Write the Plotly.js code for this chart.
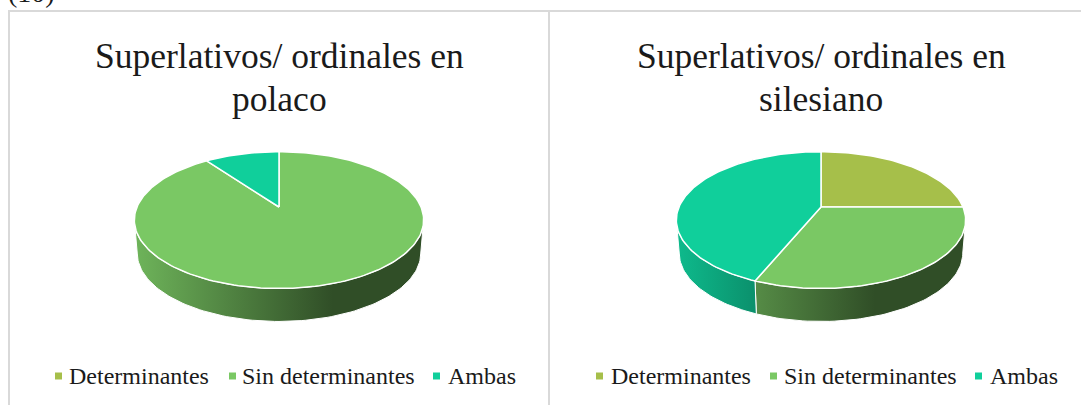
<!DOCTYPE html>
<html>
<head>
<meta charset="utf-8">
<script src="https://cdn.plot.ly/plotly-3.0.1.min.js"></script>
<style>html,body{margin:0;padding:0;background:#fff;overflow:hidden}#chart{width:1081px;height:405px}</style>
</head>
<body>
<div id="chart"></div>
<script>
// ---- data ----
const categories = ["Determinantes", "Sin determinantes", "Ambas"];
const polacoValues = [0, 9, 1];
const silesianoValues = [4, 5, 7];
const polacoTitle = ["Superlativos/ ordinales en", "polaco"];
const silesianoTitle = ["Superlativos/ ordinales en", "silesiano"];
const sliceColors = ["#A6BF4A", "#7AC864", "#10CF9B"];

// ---- geometry of the tilted pie (pixels, axes map 1:1 to the page) ----
const apexY = 207, perspective = 0.191, radiusX = 142, radiusY = 65.9;
const wallDepth = 33, wallScale = 0.98, frontStart = 101, frontEnd = 259;
const font = "Liberation Serif";

function rim(cx, deg, depth) {
  const t = deg * Math.PI / 180, u = Math.sin(t), v = Math.cos(t), d = 1 + perspective * v;
  const px = radiusX * u / d, py = radiusY * v / d;
  return depth ? [cx + wallScale * px, apexY - py + wallDepth] : [cx + px, apexY - py];
}
function shade(hex, f) {
  const n = parseInt(hex.slice(1), 16);
  return `rgb(${Math.round((n >> 16) * f)},${Math.round(((n >> 8) & 255) * f)},${Math.round((n & 255) * f)})`;
}
function arcAngles(a, b) {
  const out = [], steps = Math.max(2, Math.ceil((b - a) / 1.5));
  for (let i = 0; i <= steps; i++) out.push(a + (b - a) * i / steps);
  return out;
}
function pieTraces(cx, values) {
  const total = values.reduce((s, x) => s + x, 0);
  const walls = [], tops = [];
  let start = 0;
  values.forEach((val, i) => {
    const end = start + val / total * 360;
    if (val > 0) {
      const a = Math.max(start, frontStart), b = Math.min(end, frontEnd);
      if (b > a) {
        const ang = arcAngles(a, b);
        const upper = ang.map(d => rim(cx, d, false));
        const lower = ang.slice().reverse().map(d => rim(cx, d, true));
        const pts = upper.concat(lower); pts.push(upper[0]);
        walls.push({
          type: "scatter", mode: "lines", x: pts.map(p => p[0]), y: pts.map(p => p[1]),
          fill: "toself", line: {color: "#ffffff", width: 1}, hoverinfo: "skip", showlegend: false,
          fillgradient: {type: "horizontal", start: cx - 144, stop: cx + 54,
            colorscale: [[0, shade(sliceColors[i], 0.9)], [1, shade(sliceColors[i], 0.39)]]}
        });
      }
      const ang = arcAngles(start, end);
      const pts = [[cx, apexY]].concat(ang.map(d => rim(cx, d, false)));
      pts.push([cx, apexY]);
      tops.push({
        type: "scatter", mode: "lines", x: pts.map(p => p[0]), y: pts.map(p => p[1]),
        fill: "toself", fillcolor: sliceColors[i], line: {color: "#ffffff", width: 1.5},
        name: categories[i], text: String(val), hoverinfo: "name+text", showlegend: false
      });
    }
    start = end;
  });
  return walls.concat(tops);
}

// ---- legend layout ----
const legendMarkersLeft = [58.5, 232.5, 436.5];
const legendTextLeft = [70, 243, 449];
const legendMarkersRight = [599.5, 773.5, 978.5];
const legendTextRight = [612, 785, 991];
const legendY = 376;

const legendTrace = (xs) => categories.map((c, i) => ({
  type: "scatter", mode: "markers", x: [xs[i]], y: [legendY], name: c, hoverinfo: "name", showlegend: false,
  marker: {symbol: "square", size: 7, color: sliceColors[i]}
}));
const legendNotes = (xs) => categories.map((c, i) => ({
  xref: "x", yref: "y", x: xs[i], y: legendY, text: c, showarrow: false,
  xanchor: "left", yanchor: "middle", xshift: -3, font: {family: font, size: 24, color: "#1a1a1a"}
}));
const titleLineY = [56, 99];
const titleNotes = (x, lines) => lines.map((text, i) => ({
  xref: "x", yref: "y", x: x, y: titleLineY[i], text: text, showarrow: false, xanchor: "center", yanchor: "middle",
  font: {family: font, size: 35.5, color: "#1a1a1a"}
}));

const data = [].concat(
  pieTraces(279, polacoValues), pieTraces(821, silesianoValues),
  legendTrace(legendMarkersLeft), legendTrace(legendMarkersRight)
);
const borderColor = "#D9D9D9";
const layout = {
  width: 1081, height: 405, margin: {l: 0, r: 0, t: 0, b: 0},
  paper_bgcolor: "#ffffff", plot_bgcolor: "#ffffff", showlegend: false,
  xaxis: {range: [0, 1081], visible: false, fixedrange: true},
  yaxis: {range: [405, 0], visible: false, fixedrange: true},
  shapes: [
    {type: "line", xref: "x", yref: "y", x0: 8, x1: 1081, y0: 11, y1: 11, line: {color: borderColor, width: 2}},
    {type: "line", xref: "x", yref: "y", x0: 9, x1: 9, y0: 10, y1: 405, line: {color: borderColor, width: 2}},
    {type: "line", xref: "x", yref: "y", x0: 549, x1: 549, y0: 11, y1: 405, line: {color: borderColor, width: 2}}
  ],
  annotations: [
    {xref: "x", yref: "y", x: 6, y: 10, text: "(10)", showarrow: false, xanchor: "left", yanchor: "bottom",
     font: {family: font, size: 28, color: "#1a1a1a"}}
  ].concat(titleNotes(279, polacoTitle), titleNotes(821, silesianoTitle),
           legendNotes(legendTextLeft), legendNotes(legendTextRight))
};
Plotly.newPlot("chart", data, layout, {displayModeBar: false, staticPlot: true});
</script>
</body>
</html>
